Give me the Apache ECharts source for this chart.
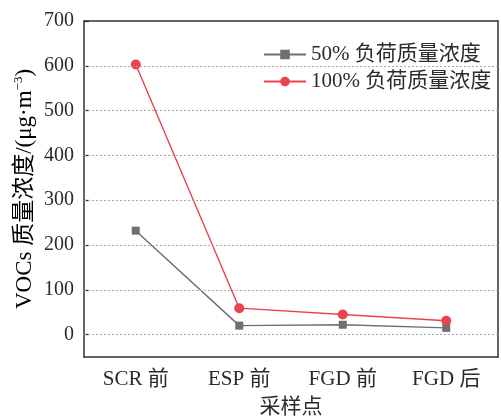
<!DOCTYPE html>
<html>
<head>
<meta charset="utf-8">
<script src="https://cdn.jsdelivr.net/npm/echarts@6/dist/echarts.min.js"></script>
<style>html,body{margin:0;padding:0;background:#fff}#c{width:501px;height:419px}</style>
</head>
<body>
<div id="c"></div>
<script>
const categories = ['SCR 前', 'ESP 前', 'FGD 前', 'FGD 后'];
const seriesNames = ['50% 负荷质量浓度', '100% 负荷质量浓度'];
const load50 = [232, 20, 22, 15];
const load100 = [603, 59, 45, 31];
const yTickValues = [0, 100, 200, 300, 400, 500, 600, 700];
const gridValues = [0, 100, 200, 300, 400, 500, 600];
const topTickSlots = ['', '', '', '', '', '', '', ''];

const FONT = "'Liberation Serif', 'Noto Sans CJK SC', serif";
const TXT = '#2b2b2b';
const AX = '#333333';
const chart = echarts.init(document.getElementById('c'), null, {renderer: 'canvas'});
chart.setOption({
  animation: false,
  backgroundColor: '#ffffff',
  textStyle: {fontFamily: FONT},
  grid: {left: 84, right: 3, top: 21, bottom: 62, containLabel: false, outerBoundsMode: 'none'},
  legend: {
    orient: 'vertical', left: 258, top: 39,
    data: seriesNames,
    itemWidth: 42, itemHeight: 12, itemGap: 6,
    textStyle: {fontFamily: FONT, fontSize: 21, color: TXT, lineHeight: 20}
  },
  xAxis: [{
    type: 'category', data: categories, boundaryGap: true, position: 'bottom',
    axisLine: {onZero: false, lineStyle: {color: AX, width: 1.5}},
    axisTick: {alignWithLabel: true, inside: true, length: 5, lineStyle: {color: AX, width: 1.3}},
    axisLabel: {fontFamily: FONT, fontSize: 21, color: TXT, margin: 12},
    name: '采样点', nameLocation: 'middle', nameGap: 40,
    nameTextStyle: {fontFamily: FONT, fontSize: 21, color: TXT}
  }, {
    type: 'category', position: 'top', data: topTickSlots, boundaryGap: true,
    axisLine: {onZero: false, lineStyle: {color: AX, width: 1.5}},
    axisTick: {inside: true, length: 2, lineStyle: {color: AX, width: 1}},
    axisLabel: {show: false}
  }],
  yAxis: [{
    type: 'value', min: -50, max: 700, position: 'left',
    axisLine: {show: true, onZero: false, lineStyle: {color: AX, width: 1.5}},
    axisTick: {show: true, inside: true, length: 5, customValues: yTickValues, lineStyle: {color: AX, width: 1.3}},
    axisLabel: {fontFamily: FONT, fontSize: 20, color: TXT, margin: 10, customValues: yTickValues},
    splitLine: {show: false}
  }, {
    type: 'value', position: 'right', min: -50, max: 700,
    axisLine: {show: true, onZero: false, lineStyle: {color: AX, width: 1.5}},
    axisTick: {show: false}, axisLabel: {show: false}, splitLine: {show: false}
  }],
  graphic: [{
    type: 'text', x: 25, y: 189, rotation: Math.PI / 2,
    style: {
      text: '{a|VOCs 质量浓度/(μg·m}{s|−3}{a|)}',
      align: 'center', verticalAlign: 'middle',
      rich: {
        a: {fontFamily: FONT, fontSize: 23, color: TXT},
        s: {fontFamily: FONT, fontSize: 13, color: TXT, verticalAlign: 'top', padding: [0, 0, 12, 0]}
      }
    }
  }],
  series: [{
    name: 'grid', type: 'line', data: [], z: 1, silent: true,
    markLine: {
      silent: true, symbol: 'none', label: {show: false},
      lineStyle: {type: [2, 2], color: '#a8a8a8', width: 1},
      data: gridValues.map(v => ({yAxis: v}))
    }
  }, {
    name: seriesNames[0], type: 'line', data: load50, z: 3,
    symbol: 'rect', symbolSize: 8,
    itemStyle: {color: '#6f6f73'},
    lineStyle: {color: '#6f6f73', width: 1.4}
  }, {
    name: seriesNames[1], type: 'line', data: load100, z: 3,
    symbol: 'circle', symbolSize: 10,
    itemStyle: {color: '#e8434f'},
    lineStyle: {color: '#e8434f', width: 1.4}
  }]
});
</script>
</body>
</html>
